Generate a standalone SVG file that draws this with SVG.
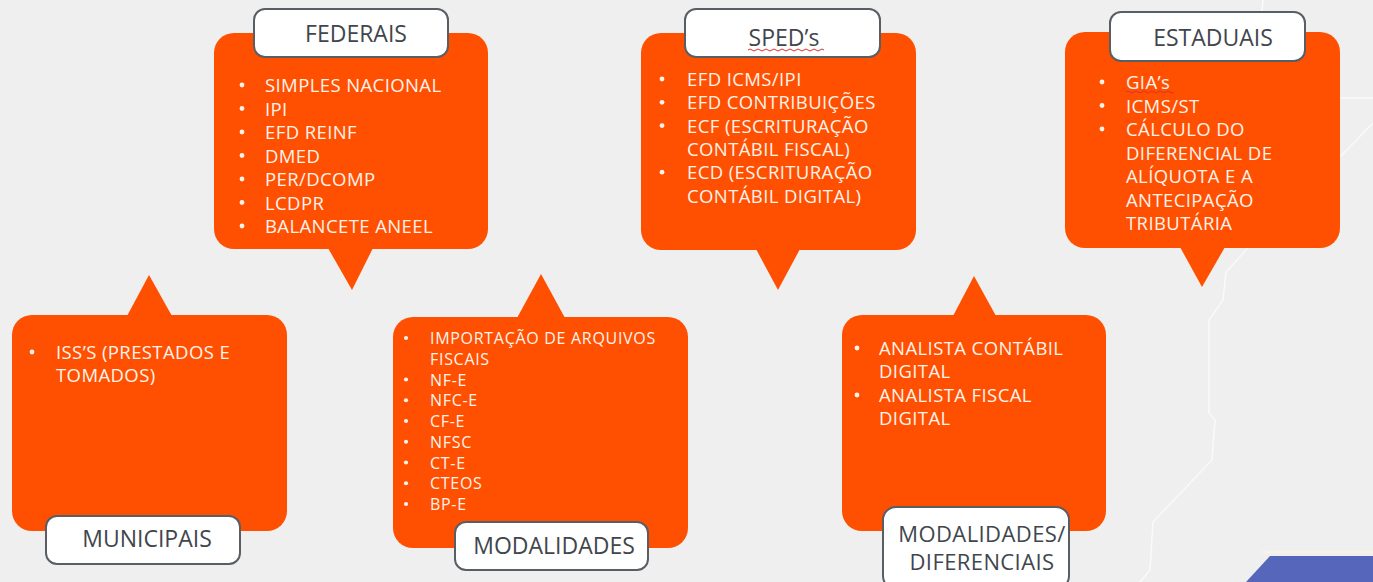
<svg xmlns="http://www.w3.org/2000/svg" width="1373" height="582" viewBox="0 0 1373 582">
<style>
.bg{fill:#efefef}
.box{fill:#fe5000}
.lbl{fill:#ffffff;stroke:#595e65;stroke-width:2}
.lt{font-family:"Open Sans","Liberation Sans",sans-serif;font-size:23px;fill:#41464c;text-anchor:middle}
.lt2{font-family:"Open Sans","Liberation Sans",sans-serif;font-size:22px;letter-spacing:0.4px;fill:#41464c;text-anchor:middle}
.it{font-family:"Open Sans","Liberation Sans",sans-serif;font-size:18.5px;letter-spacing:0.4px;fill:#fff3ec}
.sm{font-family:"Open Sans","Liberation Sans",sans-serif;font-size:16px;letter-spacing:0.7px;fill:#fff3ec}
.dot{fill:#fff3ec}
.map{fill:none;stroke:#fafafa;stroke-width:1.5}
.wavy{fill:none;stroke:#e0302a;stroke-width:1}
</style>
<rect class="bg" x="0" y="0" width="1373" height="582"/>
<g id="background-shapes">
<polyline class="map" points="1263,0 1262,12"/>
<polyline class="map" points="1340,98 1373,98"/>
<polyline class="map" points="1373,123 1340,157"/>
<polyline class="map" points="1248,248 1226,272 1223,300 1209,320 1209,413 1215,420 1212,460 1153,522 1150,570 1140,582"/>
<polygon points="1270,556 1373,556 1373,582 1246,582" fill="#5566bb"/>
<line x1="1262" y1="552" x2="1373" y2="552" stroke="#f7f3e8" stroke-width="3"/>
</g>
<g id="connectors"></g>
<g id="node-federais">
<rect class="box" x="214" y="33" width="274" height="216" rx="20"/>
<polygon class="box" points="328,248 373,248 352,290"/>
<rect class="lbl" x="254" y="9" width="194" height="48" rx="11"/>
<text class="lt" x="356" y="42">FEDERAIS</text>
<g class="dot">
<circle cx="242" cy="85" r="2.4"/><circle cx="242" cy="108.5" r="2.4"/><circle cx="242" cy="132" r="2.4"/>
<circle cx="242" cy="155.5" r="2.4"/><circle cx="242" cy="179" r="2.4"/><circle cx="242" cy="202.5" r="2.4"/>
<circle cx="242" cy="226" r="2.4"/>
</g>
<g class="it">
<text x="265" y="92">SIMPLES NACIONAL</text>
<text x="265" y="115.5">IPI</text>
<text x="265" y="139">EFD REINF</text>
<text x="265" y="162.5">DMED</text>
<text x="265" y="186">PER/DCOMP</text>
<text x="265" y="209.5">LCDPR</text>
<text x="265" y="233">BALANCETE ANEEL</text>
</g>
</g>
<g id="node-speds">
<rect class="box" x="641" y="33" width="275" height="217" rx="20"/>
<polygon class="box" points="756,249 800,249 778,290"/>
<rect class="lbl" x="685" y="9" width="195" height="48" rx="11"/>
<text class="lt" x="784" y="46">SPED’s</text>
<path class="wavy" d="M748,50 q2,-2 4,0 t4,0 t4,0 t4,0 t4,0 t4,0 t4,0 t4,0 t4,0 t4,0 t4,0 t4,0 t4,0 t4,0 t4,0 t4,0 t4,0 t4,0 t4,0"/>
<g class="dot">
<circle cx="662" cy="79" r="2.4"/><circle cx="662" cy="102.3" r="2.4"/><circle cx="662" cy="125.6" r="2.4"/>
<circle cx="662" cy="172.2" r="2.4"/>
</g>
<g class="it">
<text x="687" y="86">EFD ICMS/IPI</text>
<text x="687" y="109.3">EFD CONTRIBUIÇÕES</text>
<text x="687" y="132.6">ECF (ESCRITURAÇÃO</text>
<text x="687" y="155.9">CONTÁBIL FISCAL)</text>
<text x="687" y="179.2">ECD (ESCRITURAÇÃO</text>
<text x="687" y="202.5">CONTÁBIL DIGITAL)</text>
</g>
</g>
<g id="node-estaduais">
<rect class="box" x="1065" y="32" width="275" height="216" rx="20"/>
<polygon class="box" points="1180,247 1225,247 1202,287"/>
<rect class="lbl" x="1110" y="12" width="195" height="49" rx="11"/>
<text class="lt" x="1213" y="46">ESTADUAIS</text>
<g class="dot">
<circle cx="1102" cy="82" r="2.4"/><circle cx="1102" cy="105.5" r="2.4"/><circle cx="1102" cy="129" r="2.4"/>
</g>
<g class="it">
<text x="1126" y="89">GIA’s</text>
<text x="1126" y="112.5">ICMS/ST</text>
<text x="1126" y="136">CÁLCULO DO</text>
<text x="1126" y="159.5">DIFERENCIAL DE</text>
<text x="1126" y="183">ALÍQUOTA E A</text>
<text x="1126" y="206.5">ANTECIPAÇÃO</text>
<text x="1126" y="230">TRIBUTÁRIA</text>
</g>
<path class="wavy" d="M1126,92 q2,-2 4,0 t4,0 t4,0 t4,0 t4,0 t4,0 t4,0 t4,0 t4,0 t4,0 t4,0 t4,0"/>
</g>
<g id="node-municipais">
<rect class="box" x="12" y="315" width="275" height="216" rx="20"/>
<polygon class="box" points="127,316 172,316 149,275"/>
<rect class="lbl" x="46" y="516" width="194" height="48" rx="11"/>
<text class="lt" x="147" y="547">MUNICIPAIS</text>
<circle class="dot" cx="32" cy="352" r="2.4"/>
<g class="it">
<text x="56" y="359">ISS’S (PRESTADOS E</text>
<text x="56" y="382.3">TOMADOS)</text>
</g>
</g>
<g id="node-modalidades">
<rect class="box" x="393" y="317" width="295" height="231" rx="20"/>
<polygon class="box" points="517,318 565,318 541,274"/>
<rect class="lbl" x="455" y="522" width="193" height="48" rx="11"/>
<text class="lt" x="554" y="554">MODALIDADES</text>
<g class="dot">
<circle cx="406" cy="338" r="2.1"/><circle cx="406" cy="379.5" r="2.1"/><circle cx="406" cy="400.25" r="2.1"/>
<circle cx="406" cy="421" r="2.1"/><circle cx="406" cy="441.75" r="2.1"/><circle cx="406" cy="462.5" r="2.1"/>
<circle cx="406" cy="483.25" r="2.1"/><circle cx="406" cy="504" r="2.1"/>
</g>
<g class="sm">
<text x="430" y="344">IMPORTAÇÃO DE ARQUIVOS</text>
<text x="430" y="364.75">FISCAIS</text>
<text x="430" y="385.5">NF-E</text>
<text x="430" y="406.25">NFC-E</text>
<text x="430" y="427">CF-E</text>
<text x="430" y="447.75">NFSC</text>
<text x="430" y="468.5">CT-E</text>
<text x="430" y="489.25">CTEOS</text>
<text x="430" y="510">BP-E</text>
</g>
</g>
<g id="node-modalidades-diferenciais">
<rect class="box" x="842" y="315" width="264" height="216" rx="20"/>
<polygon class="box" points="953,316 996,316 974,276"/>
<rect class="lbl" x="883" y="507" width="186" height="82" rx="13"/>
<text class="lt2" x="982" y="541.5">MODALIDADES/</text>
<text class="lt2" x="982" y="570">DIFERENCIAIS</text>
<g class="dot">
<circle cx="857" cy="348" r="2.4"/><circle cx="857" cy="395" r="2.4"/>
</g>
<g class="it">
<text x="879" y="355">ANALISTA CONTÁBIL</text>
<text x="879" y="378.3">DIGITAL</text>
<text x="879" y="402">ANALISTA FISCAL</text>
<text x="879" y="425.3">DIGITAL</text>
</g>
</g>
</svg>
